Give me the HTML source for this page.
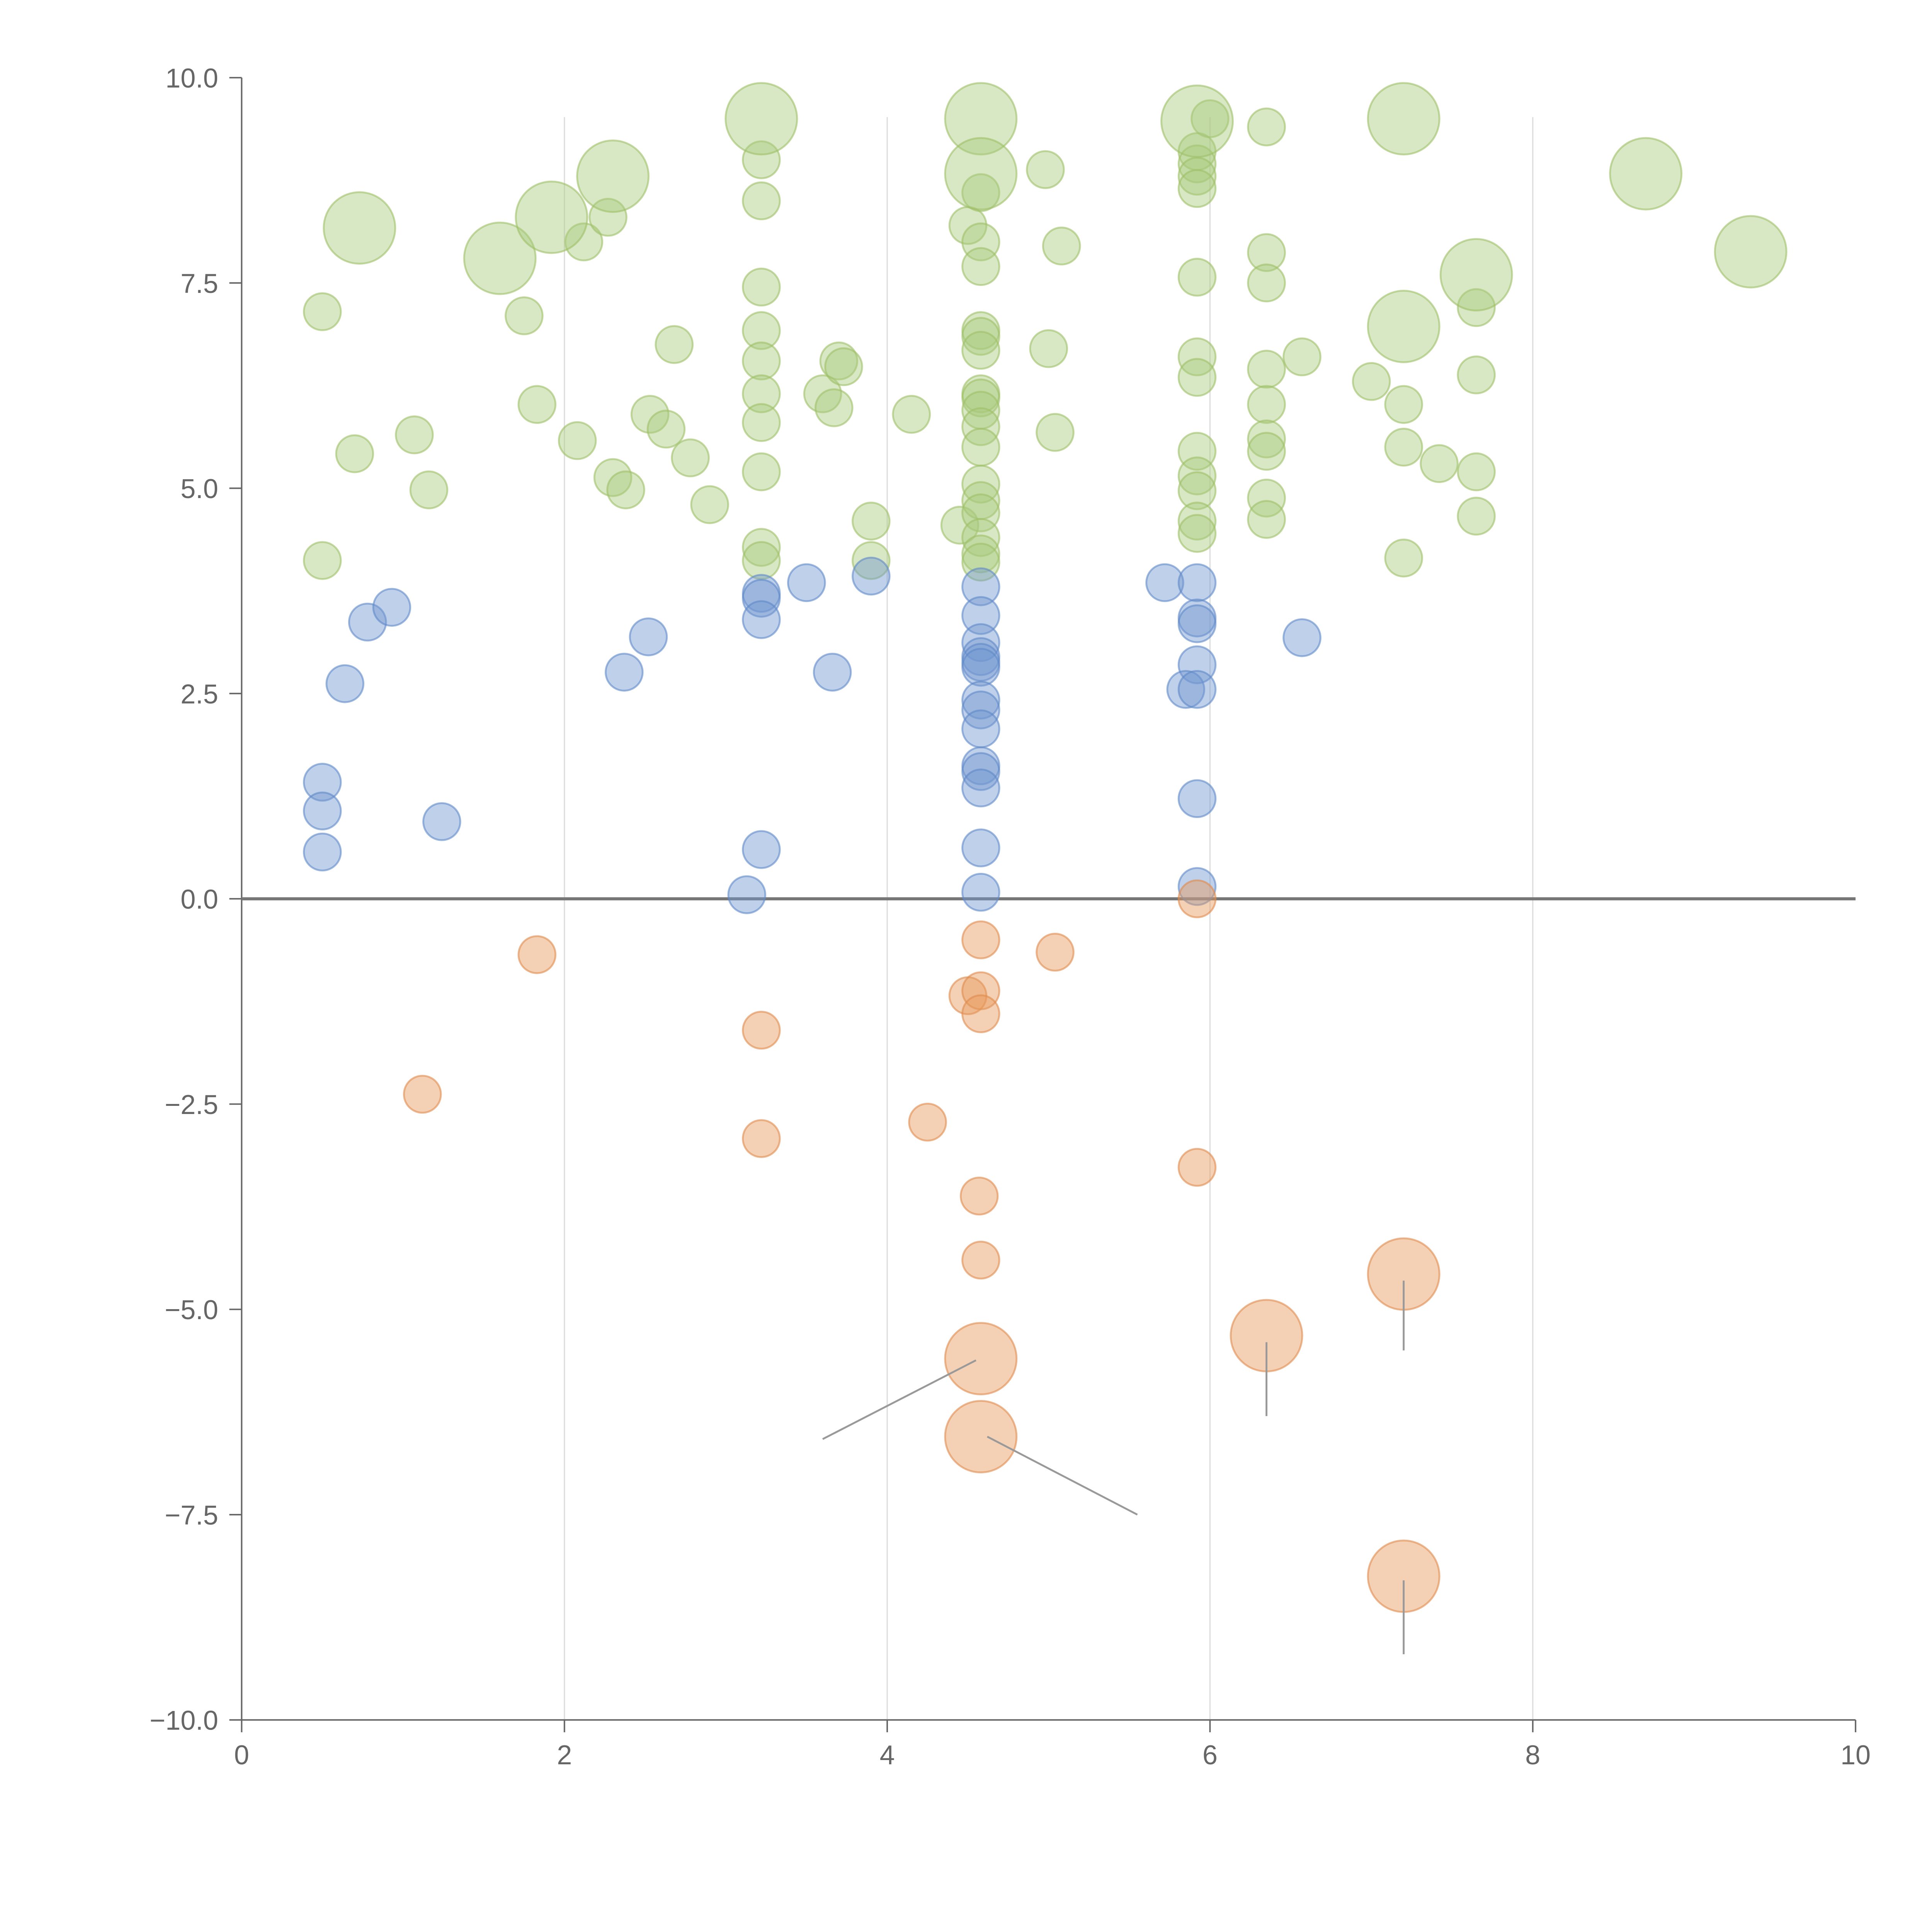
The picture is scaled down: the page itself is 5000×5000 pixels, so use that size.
<!DOCTYPE html>
<html><head><meta charset="utf-8">
<style>
html,body{margin:0;padding:0;background:#fff;}
svg{display:block;}
text{font-family:"Liberation Sans",Arial,sans-serif;fill:#666;}
</style></head>
<body>
<svg id="chart" width="5000" height="5000" viewBox="0 0 1567 1567" xmlns="http://www.w3.org/2000/svg">
<g id="grid"></g>
<g id="axes"></g>
<g id="marks"></g>
<g id="annot"></g>
</svg>
<script>
const xTicks=[0,2,4,6,8,10];
const yTicks=[10,7.5,5,2.5,0,-2.5,-5,-7.5,-10];
const yTickLabels=["10.0","7.5","5.0","2.5","0.0","\u22122.5","\u22125.0","\u22127.5","\u221210.0"];
const greenX=[0.5,0.5,0.7,1.07,1.16,1.75,1.83,2.08,2.12,2.27,2.3,2.38,2.53,2.63,2.68,2.78,2.9,3.22,3.22,3.22,3.22,3.22,3.22,3.22,3.22,3.22,3.22,3.6,3.67,3.7,3.73,3.9,3.9,4.15,4.45,4.5,4.58,4.58,4.58,4.58,4.58,4.58,4.58,4.58,4.58,4.58,4.58,4.58,4.58,4.58,4.58,4.58,4.58,4.98,5.08,5.0,5.04,5.92,5.92,5.92,5.92,6.0,5.92,5.92,5.92,5.92,5.92,5.92,5.92,5.92,6.35,6.35,6.35,6.35,6.35,6.35,6.35,6.35,6.35,6.57,7.0,7.2,7.2,7.2,7.42,7.65,7.65,7.65,7.65];
const greenY=[7.15,4.12,5.42,5.65,4.98,7.1,6.02,5.58,8.0,8.3,5.13,4.98,5.9,5.72,6.75,5.37,4.8,9.0,8.5,7.45,6.92,6.55,6.15,5.8,5.2,4.28,4.12,6.15,5.98,6.55,6.48,4.6,4.12,5.9,4.55,8.2,8.6,8.0,7.7,6.92,6.85,6.68,6.15,6.1,5.95,5.75,5.5,5.05,4.85,4.7,4.4,4.2,4.1,8.88,7.95,6.7,5.68,9.1,8.95,8.8,8.65,9.5,7.57,6.6,6.35,5.45,5.15,4.97,4.6,4.45,9.4,7.87,7.5,6.45,6.02,5.6,5.45,4.88,4.62,6.6,6.3,6.02,5.5,4.15,5.3,7.2,6.38,5.2,4.66];
const greenBigX=[0.73,1.6,1.92,2.3,3.22,4.58,4.58,5.92,7.2,7.2,7.65,8.7,9.35];
const greenBigY=[8.17,7.8,8.3,8.8,9.5,9.5,8.83,9.47,9.5,6.97,7.6,8.83,7.88];
const blueX=[0.5,0.5,0.5,0.64,0.78,0.93,1.24,2.37,2.52,3.13,3.22,3.22,3.22,3.22,3.5,3.66,3.9,4.58,4.58,4.58,4.58,4.58,4.58,4.58,4.58,4.58,4.58,4.58,4.58,4.58,4.58,5.72,5.92,5.92,5.92,5.92,5.85,5.92,5.92,5.92,6.57];
const blueY=[1.42,1.07,0.57,2.62,3.37,3.55,0.94,2.76,3.19,0.05,3.72,3.66,3.4,0.6,3.85,2.76,3.93,3.8,3.45,3.12,2.95,2.88,2.82,2.42,2.3,2.07,1.62,1.55,1.35,0.62,0.08,3.85,3.85,3.42,3.35,2.85,2.55,2.55,1.22,0.15,3.18];
const orangeX=[1.83,1.12,3.22,3.22,4.25,4.5,4.58,4.58,4.58,4.57,4.58,5.04,5.92,5.92];
const orangeY=[-0.68,-2.38,-1.6,-2.92,-2.72,-1.18,-1.12,-1.4,-0.5,-3.62,-4.4,-0.65,0.0,-3.27];
const orangeBigX=[4.58,4.58,6.35,7.2,7.2];
const orangeBigY=[-5.6,-6.55,-5.32,-4.57,-8.25];

const X0=196,X1=1505,YT=63,YB=1395;
const sx=v=>X0+(v-0)/(10-0)*(X1-X0);
const sy=v=>YB-(v+10)/20*(YB-YT);
const NS="http://www.w3.org/2000/svg";
function mk(tag,parent,attrs){const e=document.createElementNS(NS,tag);for(const k in attrs)e.setAttribute(k,attrs[k]);parent.appendChild(e);return e;}
const grid=document.getElementById('grid'),axes=document.getElementById('axes'),marks=document.getElementById('marks'),annot=document.getElementById('annot');

[2,4,6,8].forEach(v=>{const l=mk('line',grid,{x1:sx(v),x2:sx(v),y1:95,y2:YB,stroke:'#ddd','stroke-width':1});

});

let l=mk('line',axes,{x1:X0,x2:X0,y1:YT,y2:YB,stroke:'#666','stroke-width':1.2});


l=mk('line',axes,{x1:X0,x2:X1,y1:YB,y2:YB,stroke:'#666','stroke-width':1.2});



yTicks.forEach((v,i)=>{const y=sy(v);
const t=mk('line',axes,{x1:X0-10,x2:X0,y1:y,y2:y,stroke:'#666','stroke-width':1.2});


const tx=mk('text',axes,{x:X0-19,y:y+8,'text-anchor':'end','font-size':22});tx.textContent=yTickLabels[i];

});
xTicks.forEach(v=>{const x=sx(v);
const t=mk('line',axes,{x1:x,x2:x,y1:YB,y2:YB+10,stroke:'#666','stroke-width':1.2});


const tx=mk('text',axes,{x:x,y:YB+36,'text-anchor':'middle','font-size':22});tx.textContent=String(v);

});

function draw(xs,ys,r,fill,stroke,name){xs.forEach((x,i)=>{
const c=mk('circle',marks,{cx:sx(x),cy:sy(ys[i]),r:r,fill:fill,'fill-opacity':0.45,stroke:stroke,'stroke-opacity':0.6,'stroke-width':1.5});

});}
draw(greenX,greenY,15,'#a9c97c','#9fc068','bubble-green');
draw(greenBigX,greenBigY,29,'#a9c97c','#9fc068','bubble-green-large');
draw(blueX,blueY,15,'#7197d0','#5f88c8','bubble-blue');
draw(orangeX,orangeY,15,'#e6985c','#e08b4c','bubble-orange');
draw(orangeBigX,orangeBigY,29,'#e6985c','#e08b4c','bubble-orange-large');

const z=mk('line',axes,{x1:X0,x2:X1,y1:sy(0),y2:sy(0),stroke:'#777','stroke-width':2.5});



const segX1=[4.55,4.62,7.2,6.35,7.2],segY1=[-5.62,-6.55,-4.65,-5.4,-8.3];
const segX2=[3.6,5.55,7.2,6.35,7.2],segY2=[-6.58,-7.5,-5.5,-6.3,-9.2];
segX1.forEach((x,i)=>{const a=mk('line',annot,{x1:sx(x),y1:sy(segY1[i]),x2:sx(segX2[i]),y2:sy(segY2[i]),stroke:'#999','stroke-width':1.5});

});
</script>
</body></html>
